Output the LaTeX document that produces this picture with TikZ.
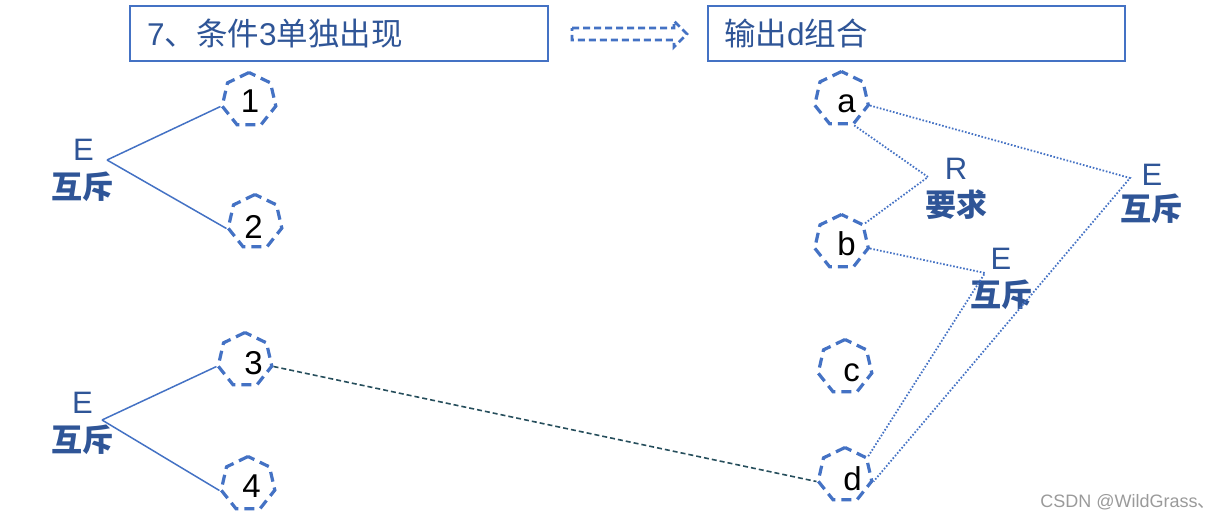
\documentclass[tikz,border=0pt]{standalone}
\usepackage{fontspec}
\setmainfont{Liberation Sans}
\newfontfamily\cjk{Noto Sans CJK SC}
\usetikzlibrary{shapes.geometric}
\definecolor{hepblue}{HTML}{4472C4}
\definecolor{txtblue}{HTML}{2F5597}
\definecolor{darkteal}{HTML}{264E5C}
\definecolor{wmgray}{HTML}{9A9A9A}
\begin{document}
\begin{tikzpicture}[x=1pt,y=-1pt,
  hept/.style={draw=hepblue, regular polygon, regular polygon sides=7, minimum size=55pt, inner sep=0pt, line width=3.2pt, dash pattern=on 10pt off 6pt},
  num/.style={font=\fontsize{33}{36}\selectfont, text=black, inner sep=0pt},
  lab/.style={font=\fontsize{31}{34}\selectfont, text=txtblue, inner sep=0pt},
  labc/.style={font=\cjk\bfseries\fontsize{31}{34}\selectfont, text=txtblue, inner sep=0pt},
  titlebox/.style={draw=hepblue, line width=2pt, fill=white, minimum height=55pt, inner ysep=0pt, align=left, text=txtblue, font=\fontsize{31.5}{34}\selectfont},
  solidl/.style={draw=hepblue, line width=1.5pt},
  dashl/.style={draw=darkteal, line width=1.6pt, dash pattern=on 5pt off 3pt},
  dotl/.style={draw=hepblue, line width=1.8pt, dash pattern=on 1.6pt off 1.8pt},
  arrowst/.style={draw=hepblue, line width=2.8pt, dash pattern=on 7pt off 4pt, line join=miter},
  wm/.style={font=\fontsize{18}{20}\selectfont, text=wmgray, inner sep=0pt}
]
\useasboundingbox (0,0) rectangle (1224,520);

% title boxes
\node[titlebox, text width=384pt, inner xsep=17pt] (box1) at (339,33.5) {7{\cjk 、条件}3{\cjk 单独出现}};
\node[titlebox, text width=385pt, inner xsep=16pt] (box2) at (916.5,33.5) {{\cjk 输出}d{\cjk 组合}};
\draw[arrowst] (572,28) -- (674,28) -- (674,21) -- (687,34) -- (674,47) -- (674,40) -- (572,40) -- cycle;

% heptagons
\node[hept] (h1) at (249,100) {};
\node[num] (n1) at (250,101) {1};
\node[hept] (h2) at (255,222) {};
\node[num] (n2) at (253.5,227) {2};
\node[hept] (h3) at (245,360) {};
\node[num] (n3) at (253.5,363.5) {3};
\node[hept] (h4) at (248,484) {};
\node[num] (n4) at (251.5,486) {4};
\node[hept] (ha) at (841.5,99) {};
\node[num] (na) at (846.5,104) {a};
\node[hept] (hb) at (841.5,242) {};
\node[num] (nb) at (846.5,243.5) {b};
\node[hept] (hc) at (845,367) {};
\node[num] (nc) at (851.5,372.5) {c};
\node[hept] (hd) at (845,475) {};
\node[num] (nd) at (852.5,478.5) {d};

% labels
\node[lab] (e1) at (83.5,150) {E};
\node[labc] (m1) at (82.5,187) {互斥};
\node[lab] (e2) at (82.5,402.5) {E};
\node[labc] (m2) at (82.5,440) {互斥};
\node[lab] (r) at (956,169) {R};
\node[labc] (q) at (956,204.5) {要求};
\node[lab] (e3) at (1152,175) {E};
\node[labc] (m3) at (1151,208.5) {互斥};
\node[lab] (e4) at (1001,259) {E};
\node[labc] (m4) at (1001,295) {互斥};

% vertices
\coordinate (v1) at (107,160);
\coordinate (v2) at (102,420);
\coordinate (vr) at (928,177);
\coordinate (ve3) at (1130,178);
\coordinate (ve4) at (985,273);

% connectors
\draw[solidl] (v1) -- (h1.corner 3);
\draw[solidl] (v1) -- (h2.corner 3);
\draw[solidl] (v2) -- (h3.corner 3);
\draw[solidl] (v2) -- (h4.corner 3);
\draw[dashl] (h3.corner 6) -- (hd.corner 3);
\draw[dotl] (ha.corner 6) -- (ve3) -- (hd.corner 6);
\draw[dotl] (ha.corner 5) -- (vr) -- (hb.corner 7);
\draw[dotl] (hb.corner 6) -- (ve4) -- (hd.corner 7);

% watermark
\node[wm] (wmk) at (1128,502) {CSDN @WildGrass{\cjk 、}};
\end{tikzpicture}
\end{document}
